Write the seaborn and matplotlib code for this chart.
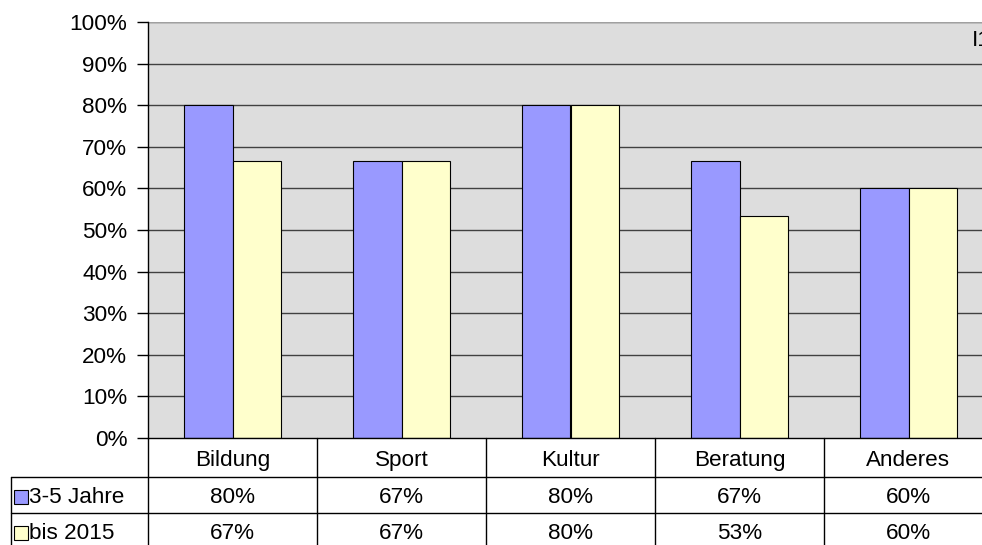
import pandas as pd
import matplotlib.pyplot as plt
import matplotlib.transforms as mtransforms
from matplotlib.lines import Line2D
import seaborn as sns

categories = ["Bildung", "Sport", "Kultur", "Beratung", "Anderes"]
series_names = ["3-5 Jahre", "bis 2015"]
jahre_3_5 = [0.80, 0.667, 0.80, 0.667, 0.60]
bis_2015 = [0.667, 0.667, 0.80, 0.533, 0.60]
colors = ["#9999FF", "#FFFFCC"]

df = pd.DataFrame({
    "Kategorie": categories * 2,
    "Serie": [series_names[0]] * 5 + [series_names[1]] * 5,
    "Wert": jahre_3_5 + bis_2015,
})

sns.set_theme(style="white")
plt.rcParams["font.family"] = ["Liberation Sans", "DejaVu Sans"]
plt.rcParams["text.color"] = "black"
fs = 16.2

fig = plt.figure(figsize=(9.82, 5.45), dpi=100)
W, H = 982, 545
ax = fig.add_axes([148 / W, 1 - 438 / H, (993 - 148) / W, (438 - 22) / H])
ax.set_facecolor("#DDDDDD")

sns.barplot(data=df, x="Kategorie", y="Wert", hue="Serie", palette=colors,
            saturation=1, width=0.575, edgecolor="black", linewidth=0.8, ax=ax,
            legend=False, zorder=3)

ax.set_xlim(-0.5, 4.5)
ax.set_ylim(0, 1)
yt = [i / 10 for i in range(11)]
ax.set_yticks(yt)
ax.set_yticklabels([f"{int(round(v * 100))}%" for v in yt], fontsize=fs, color="black")
ax.tick_params(axis="y", length=8, width=1, color="black", pad=7, left=True)
ax.set_xticks([])
ax.set_xlabel("")
ax.set_ylabel("")
for v in yt[1:]:
    ax.axhline(v, color="#404040", lw=1, zorder=1)
ax.axhline(1, color="#A0A0A0", lw=1.5, zorder=1)
for s in ["top", "right", "bottom"]:
    ax.spines[s].set_visible(False)
ax.spines["left"].set_color("black")
ax.spines["left"].set_linewidth(1)

# data table below the axis
tr = mtransforms.blended_transform_factory(ax.transData, fig.transFigure)
y_top = 1 - 438 / H
y_l1 = 1 - 477 / H
y_l2 = 1 - 513 / H
y_b1 = 1 - 466 / H
y_b2 = 1 - 503 / H
y_b3 = 1 - 539 / H

for i in range(len(categories) + 1):
    fig.add_artist(Line2D([i - 0.5, i - 0.5], [y_top, 0], transform=tr,
                          color="black", lw=1))
fig.add_artist(Line2D([148 / W, 1], [y_top, y_top], transform=fig.transFigure,
                      color="black", lw=1))
for y in [y_l1, y_l2]:
    fig.add_artist(Line2D([11 / W, 1], [y, y], transform=fig.transFigure,
                          color="black", lw=1))
fig.add_artist(Line2D([11 / W, 11 / W], [y_l1, 0], transform=fig.transFigure,
                      color="black", lw=1))

for i, cat in enumerate(categories):
    fig.text(i, y_b1, cat, transform=tr, ha="center", va="baseline", fontsize=fs)
    fig.text(i, y_b2, f"{jahre_3_5[i] * 100:.0f}%", transform=tr, ha="center",
             va="baseline", fontsize=fs)
    fig.text(i, y_b3, f"{bis_2015[i] * 100:.0f}%", transform=tr, ha="center",
             va="baseline", fontsize=fs)

for name, col, y in zip(series_names, colors, [y_b2, y_b3]):
    fig.add_artist(Line2D([20.5 / W], [y + 6 / H], transform=fig.transFigure,
                          marker="s", markersize=9.5, markerfacecolor=col,
                          markeredgecolor="black", markeredgewidth=0.8,
                          linestyle="none"))
    fig.text(29 / W, y, name, ha="left", va="baseline", fontsize=fs)

fig.text(972 / W, 1 - 40 / H, "I1", ha="left", va="center", fontsize=fs)

fig.savefig("out.png", dpi=100)
